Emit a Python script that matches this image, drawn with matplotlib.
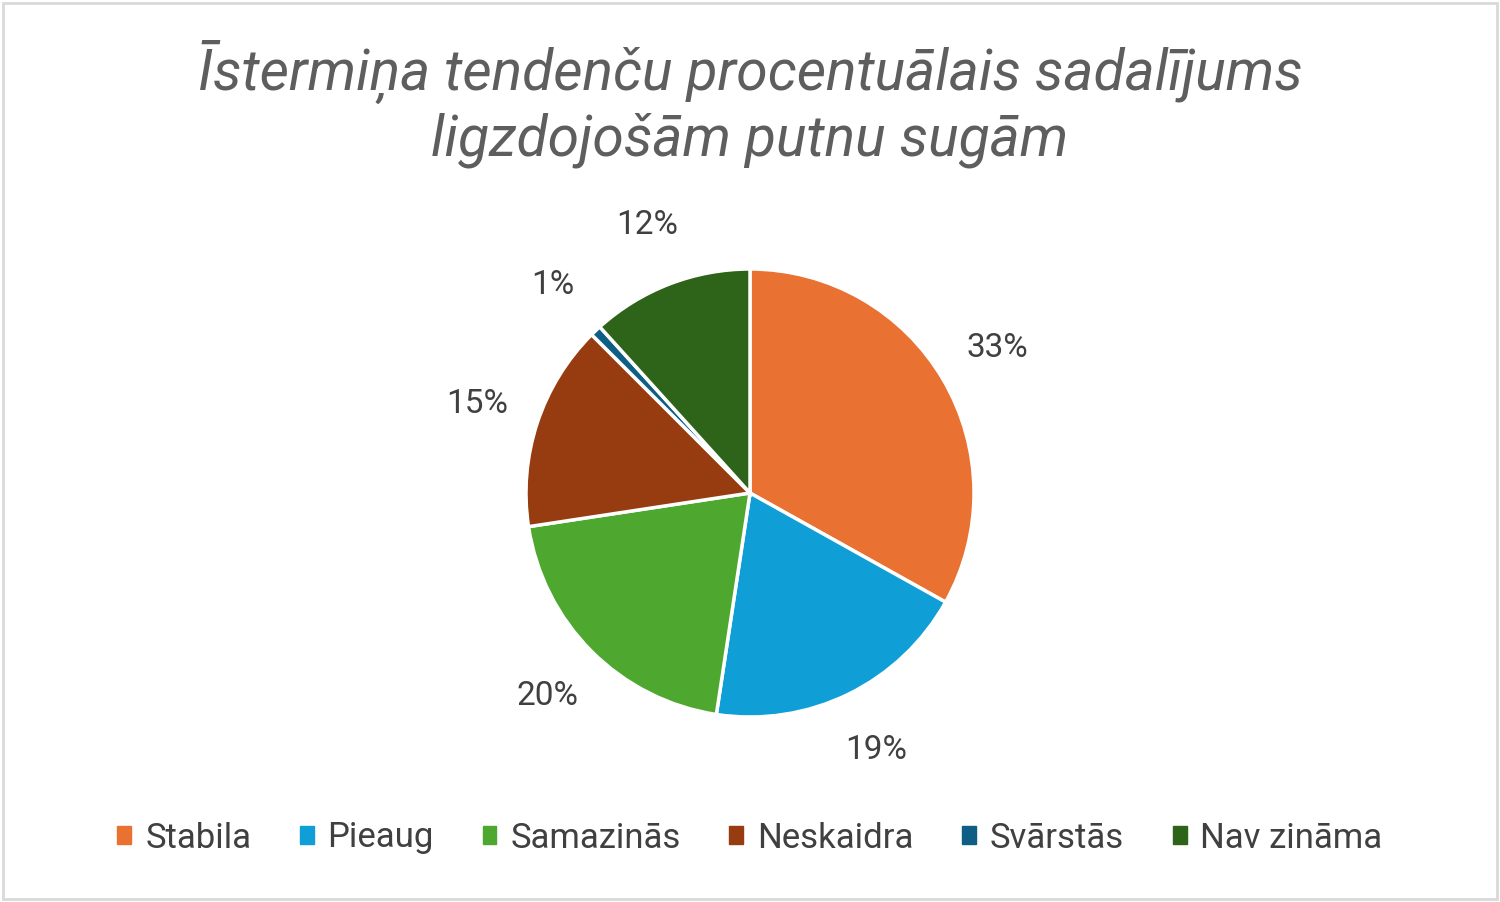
import matplotlib
matplotlib.use("Agg")
import matplotlib.pyplot as plt
from matplotlib.patches import Patch, Rectangle

# Istermina tendences, procenti
categories = ["Stabila", "Pieaug", "Samazinās", "Neskaidra", "Svārstās", "Nav zināma"]
values = [33.1, 19.3, 20.2, 14.9, 0.8, 11.7]
colors = ["#E97132", "#0F9ED5", "#4EA72E", "#963C10", "#0F5F85", "#2E6419"]

title = "Īstermiņa tendenču procentuālais sadalījums\nligzdojošām putnu sugām"

plt.rcParams['font.family'] = ['Roboto', 'DejaVu Sans']

fig = plt.figure(figsize=(15, 9.02), dpi=100)

# gray frame around the chart
fig.patches.append(Rectangle((0.002, 0.003), 0.996, 0.994, transform=fig.transFigure,
                             fill=False, edgecolor="#D9D9D9", linewidth=2))

fig.text(0.5, 1 - 104 / 902, title, ha="center", va="center", fontsize=41, style="italic",
         color="#5E5E5E", linespacing=1.2)

w = 448 / 1500
h = 448 / 902
ax = fig.add_axes([0.5 - w / 2, (1 - 493 / 902) - h / 2, w, h])
wedges, texts, autotexts = ax.pie(values, colors=colors, startangle=90, counterclock=False,
                                  autopct=lambda p: f"{p:.0f}%", pctdistance=1.28,
                                  wedgeprops=dict(edgecolor="white", linewidth=2.5),
                                  textprops=dict(fontsize=24, color="#404040"))
ax.set_xlim(-1, 1)
ax.set_ylim(-1, 1)
ax.set_aspect("equal")

handles = [Patch(facecolor=c, edgecolor=c) for c in colors]
fig.legend(handles, categories, loc="center", bbox_to_anchor=(0.5, 1 - 838 / 902), ncol=6,
           frameon=False, fontsize=25, labelcolor="#404040", handlelength=0.4,
           handleheight=0.4, handletextpad=0.4, columnspacing=1.4)

fig.savefig("out.png", dpi=100)
